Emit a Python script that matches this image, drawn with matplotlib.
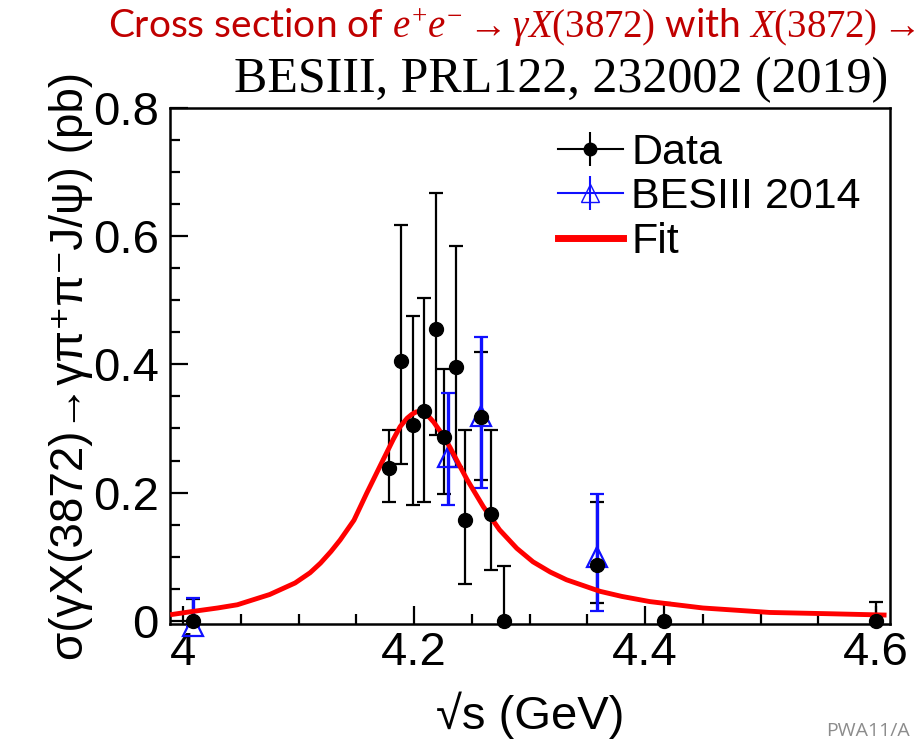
import matplotlib
matplotlib.use("Agg")
import matplotlib.pyplot as plt
from matplotlib.lines import Line2D
from matplotlib.legend_handler import HandlerTuple
from matplotlib.ticker import MultipleLocator, FixedLocator

plt.rcParams['mathtext.fontset'] = 'custom'
plt.rcParams['mathtext.rm'] = 'Liberation Serif'
plt.rcParams['mathtext.it'] = 'Liberation Serif:italic'

SANS = ['Liberation Sans', 'DejaVu Sans']

# BESIII data
data_E = [4.009, 4.178, 4.189, 4.199, 4.209, 4.219, 4.226, 4.236, 4.244,
          4.258, 4.267, 4.278, 4.358, 4.416, 4.600]
data_sigma = [0.0, 0.238, 0.406, 0.305, 0.327, 0.456, 0.287, 0.396, 0.157,
              0.318, 0.167, 0.0, 0.087, 0.0, 0.0]
data_hi = [0.034, 0.298, 0.617, 0.475, 0.503, 0.667, 0.393, 0.585, 0.298,
           0.420, 0.298, 0.086, 0.186, 0.027, 0.030]
data_lo = [0.0, 0.186, 0.245, 0.180, 0.186, 0.290, 0.198, 0.240, 0.058,
           0.220, 0.079, 0.0, 0.027, 0.0, 0.0]

# BESIII 2014
old_E = [4.009, 4.229, 4.258, 4.358]
old_sigma = [-0.008, 0.255, 0.320, 0.100]
old_hi = [0.035, 0.355, 0.443, 0.198]
old_lo = [-0.008, 0.180, 0.207, 0.016]

# fit curve
fit_E = [3.991, 4.006, 4.030, 4.047, 4.075, 4.097, 4.110, 4.119, 4.128, 4.136,
         4.148, 4.159, 4.171, 4.182, 4.188, 4.194, 4.198, 4.202, 4.206, 4.210,
         4.213, 4.217, 4.224, 4.231, 4.238, 4.246, 4.260, 4.274, 4.289, 4.303,
         4.318, 4.332, 4.361, 4.380, 4.404, 4.450, 4.508, 4.560, 4.607]
fit_sigma = [0.010, 0.014, 0.020, 0.025, 0.041, 0.059, 0.075, 0.090, 0.108, 0.126,
             0.157, 0.199, 0.243, 0.283, 0.303, 0.316, 0.322, 0.326, 0.326, 0.323,
             0.318, 0.310, 0.292, 0.271, 0.247, 0.220, 0.178, 0.142, 0.113, 0.092,
             0.076, 0.064, 0.046, 0.038, 0.030, 0.020, 0.013, 0.011, 0.009]

xticks = [4.0, 4.2, 4.4, 4.6]
xticklabels = ['4', '4.2', '4.4', '4.6']
yticks = [0, 0.2, 0.4, 0.6, 0.8]
yticklabels = ['0', '0.2', '0.4', '0.6', '0.8']

fig = plt.figure(figsize=(9.2, 7.54), dpi=100)
ax = fig.add_axes([170 / 920, 1 - 624 / 754, 720 / 920, 516 / 754])

blue = '#1010ff'

# error bars
d_err = [[s - l for s, l in zip(data_sigma, data_lo)],
         [h - s for s, h in zip(data_sigma, data_hi)]]
ax.errorbar(data_E, data_sigma, yerr=d_err, fmt='none', ecolor='black',
            elinewidth=1.6, capsize=5, capthick=1.6, zorder=2, clip_on=False)
o_err = [[s - l for s, l in zip(old_sigma, old_lo)],
         [h - s for s, h in zip(old_sigma, old_hi)]]
ax.errorbar(old_E, old_sigma, yerr=o_err, fmt='none', ecolor=blue,
            elinewidth=2.4, capsize=5, capthick=1.6, zorder=3, clip_on=False)
ax.plot(old_E, old_sigma, ls='none', marker='^', ms=15, mfc='none',
        mec=blue, mew=1.6, zorder=3, clip_on=False)

ax.plot(fit_E, fit_sigma, color='#ff0000', lw=3.5, zorder=4, clip_on=False,
        solid_joinstyle='round')

ax.plot(data_E, data_sigma, ls='none', marker='o', ms=10, color='black',
        zorder=5, clip_on=False)

ax.set_xlim(3.9887, 4.6121)
ax.set_ylim(-0.005, 0.8)

ax.xaxis.set_major_locator(FixedLocator(xticks))
ax.set_xticklabels(xticklabels)
ax.xaxis.set_minor_locator(MultipleLocator(0.05))
ax.yaxis.set_major_locator(FixedLocator(yticks))
ax.set_yticklabels(yticklabels)
ax.yaxis.set_minor_locator(MultipleLocator(0.05))

ax.tick_params(which='both', direction='in', top=False, right=False, width=1.6)
ax.tick_params(which='major', length=13)
ax.tick_params(which='minor', length=7.5)
ax.tick_params(axis='x', which='major', pad=5)
ax.tick_params(axis='y', which='major', pad=8)
for lab in ax.get_xticklabels() + ax.get_yticklabels():
    lab.set_family(SANS)
    lab.set_fontsize(34)
for sp in ax.spines.values():
    sp.set_linewidth(1.8)

ax.set_xlabel('\u221as (GeV)', family=SANS, fontsize=34, labelpad=12)
ax.set_ylabel('\u03c3(\u03b3X(3872)\u2192\u03b3\u03c0\u207a\u03c0\u207bJ/\u03c8) (pb)',
              family=SANS, fontsize=33, labelpad=0)

# legend
h_data = (Line2D([], [], color='black', lw=1.5, marker='o', ms=9),
          Line2D([], [], color='black', ls='none', marker='|', ms=24, mew=1.5))
h_old = (Line2D([], [], color=blue, lw=1.5, marker='^', ms=13, mfc='none', mec=blue),
         Line2D([], [], color=blue, ls='none', marker='|', ms=24, mew=1.5))
h_fit = Line2D([], [], color='#ff0000', lw=5)
ax.legend([h_data, h_old, h_fit], ['Data', 'BESIII 2014', 'Fit'],
          handler_map={tuple: HandlerTuple(ndivide=1)},
          loc='upper left', bbox_to_anchor=(0.497, 1.01), frameon=False,
          prop={'family': SANS, 'size': 31}, handlelength=1.5,
          handletextpad=0.2, labelspacing=0.1, borderpad=0.2)

# slide texts
fig.text(108 / 920, 1 - 28 / 754,
         r'Cross section of $e^{+}e^{-}\rightarrow\gamma X(3872)$ with $X(3872)\rightarrow$',
         color='#c00000', family=['Lato', 'DejaVu Sans'], fontsize=28,
         ha='left', va='center')
fig.text(888 / 920, 1 - 80 / 754, 'BESIII, PRL122, 232002 (2019)',
         family=['Liberation Serif', 'DejaVu Serif'], fontsize=36,
         ha='right', va='center')
fig.text(826 / 920, 1 - 731 / 754, 'PWA11/A', color='#8c8c8c',
         family=['Open Sans', 'DejaVu Sans'], fontsize=14, ha='left', va='center')

fig.savefig('out.png', dpi=100)
